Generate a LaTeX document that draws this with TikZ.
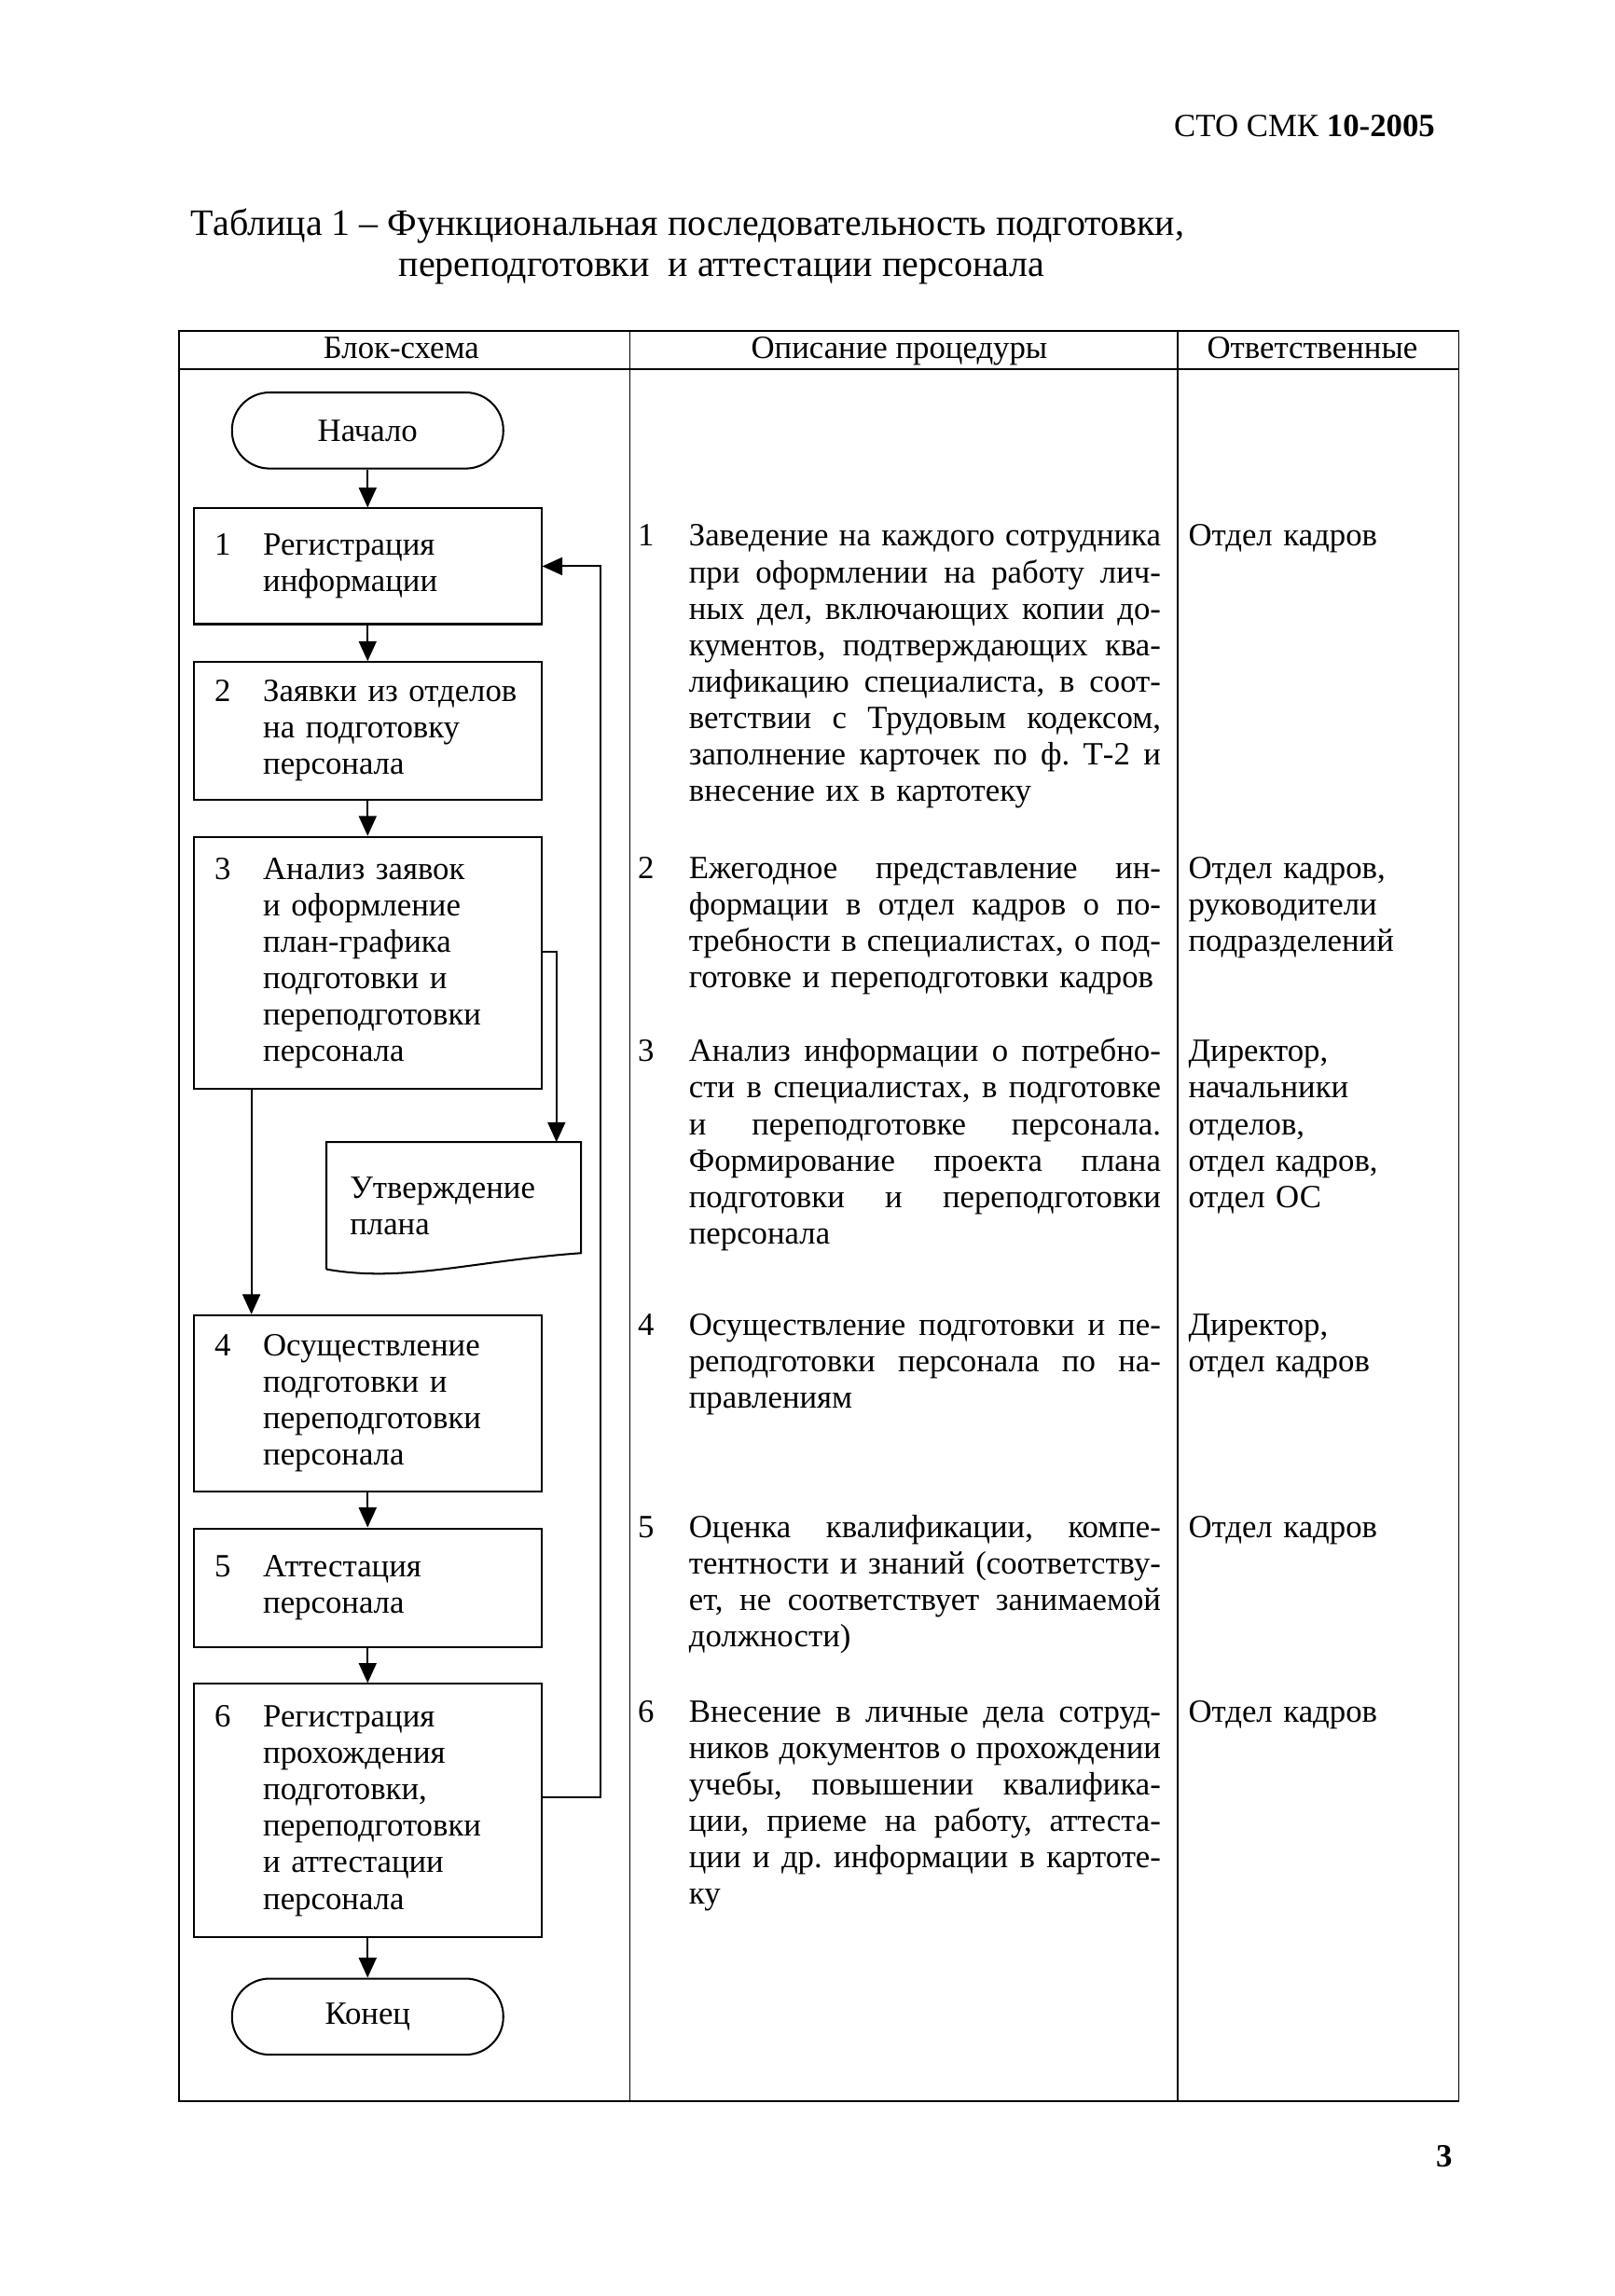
\documentclass[tikz,border=0pt]{standalone}
\usepackage{fontspec}
\setmainfont{Liberation Serif}
\usetikzlibrary{positioning, arrows.meta}
\frenchspacing

\newlength{\desclen}
\setlength{\desclen}{61.4mm}
\newcommand{\stepnum}[2]{\makebox[6.3mm][l]{#1}\begin{tabular}[t]{@{}l@{}}#2\end{tabular}}
\newcommand{\jline}[1]{\makebox[\desclen][s]{\spaceskip=0.25em plus 1fil minus 0.08em\relax #1}\\}

\begin{document}
\begin{tikzpicture}[x=0.19056mm, y=-0.19056mm, node distance=4.6mm,
    font=\fontsize{12}{13.5}\selectfont,
    block/.style={rectangle, draw, line width=0.7pt, text width=39.8mm, inner xsep=2.7mm, align=left, minimum height=#1},
    term/.style={rectangle, draw, line width=0.7pt, rounded corners=4.9mm, minimum width=35.3mm, minimum height=9.9mm},
    docbox/.style={text width=27mm, inner xsep=3mm, align=left, minimum height=16.4mm},
    desc/.style={anchor=base west, inner sep=0pt, text width=\desclen},
    resp/.style={anchor=base west, inner sep=0pt, text width=33mm, align=left},
    num/.style={anchor=base, inner sep=0pt},
    grid/.style={draw, line width=0.6pt},
    line/.style={draw, line width=0.7pt, -{Triangle[length=2.6mm, width=2.3mm]}}]

    \useasboundingbox (0,0) rectangle (1102,1568);

    \node[anchor=base east, inner sep=0pt] (hdr) at (980,93) {СТО СМК \textbf{10-2005}};
    \node[anchor=base west, inner sep=0pt, font=\fontsize{13.8}{16}\selectfont] (title1) at (130,161) {Таблица 1 – Функциональная последовательность подготовки,};
    \node[anchor=base west, inner sep=0pt, font=\fontsize{13.8}{16}\selectfont] (title2) at (272,189) {переподготовки\ \ и аттестации персонала};

    % table frame
    \path[grid] (122,226) rectangle (996,1435);
    \path[grid] (122,252) -- (996,252);
    \path[grid] (430,226) -- (430,1435);
    \path[grid] (804,226) -- (804,1435);
    \node[num] (h1) at (274,245) {Блок-схема};
    \node[num] (h2) at (614,245) {Описание процедуры};
    \node[num] (h3) at (896,245) {Ответственные};

    % flowchart
    \node[term] (start) at (251,294) {Начало};
    \node[block=15.05mm, below=4.95mm of start] (reg) {\stepnum{1}{Регистрация\\информации}};
    \node[block=17.9mm, below=4.7mm of reg] (req) {\stepnum{2}{Заявки из отделов\\на подготовку\\персонала}};
    \node[block=32.8mm, below=of req] (anl) {\stepnum{3}{Анализ заявок\\и оформление\\план-графика\\подготовки и\\переподготовки\\персонала}};
    \node[docbox, below=6.8mm of anl, xshift=11.2mm] (apprv) {Утверждение\\плана};
    \node[block=22.9mm, below=29.2mm of anl] (train) {\stepnum{4}{Осуществление\\подготовки и\\переподготовки\\персонала}};
    \node[block=15.4mm, below=of train] (att) {\stepnum{5}{Аттестация\\персонала}};
    \node[block=33mm, below=of att] (rec) {\stepnum{6}{Регистрация\\прохождения\\подготовки,\\переподготовки\\и аттестации\\персонала}};
    \node[term, below=5.1mm of rec] (stop) {Конец};

    \draw[line width=0.7pt] (apprv.south west) -- (apprv.north west) -- (apprv.north east) -- ([yshift=2.1mm]apprv.south east)
        .. controls +(-14mm,-1mm) and +(10mm,-1.8mm) .. (apprv.south west);

    \coordinate (back) at (410,0);
    \path[line] (start) -- (reg);
    \path[line] (reg) -- (req);
    \path[line] (req) -- (anl);
    \path[line] ([yshift=1.5mm]anl.east) -| ([xshift=-3.2mm]apprv.north east);
    \path[line] ([xshift=7.6mm]anl.south west) -- ([xshift=7.6mm]anl.south west |- train.north);
    \path[line] (train) -- (att);
    \path[line] (att) -- (rec);
    \path[line] (rec) -- (stop);
    \path[line] ([yshift=1.8mm]rec.east) -- ([yshift=1.8mm]rec.east -| back) |- (reg.east);

    % description
    \node[num] (n1) at (441,373) {1};
    \node[desc] (desc1) at (470,373) {\jline{Заведение на каждого сотрудника}\jline{при оформлении на работу лич-}\jline{ных дел, включающих копии до-}\jline{кументов, подтверждающих ква-}\jline{лификацию специалиста, в соот-}\jline{ветствии с Трудовым кодексом,}\jline{заполнение карточек по ф. Т-2 и}внесение их в картотеку};
    \node[num] (n2) at (441,600) {2};
    \node[desc] (desc2) at (470,600) {\jline{Ежегодное представление ин-}\jline{формации в отдел кадров о по-}\jline{требности в специалистах, о под-}готовке и переподготовки кадров};
    \node[num] (n3) at (441,725) {3};
    \node[desc] (desc3) at (470,725) {\jline{Анализ информации о потребно-}\jline{сти в специалистах, в подготовке}\jline{и переподготовке персонала.}\jline{Формирование проекта плана}\jline{подготовки и переподготовки}персонала};
    \node[num] (n4) at (441,912) {4};
    \node[desc] (desc4) at (470,912) {\jline{Осуществление подготовки и пе-}\jline{реподготовки персонала по на-}правлениям};
    \node[num] (n5) at (441,1050) {5};
    \node[desc] (desc5) at (470,1050) {\jline{Оценка квалификации, компе-}\jline{тентности и знаний (соответству-}\jline{ет, не соответствует занимаемой}должности)};
    \node[num] (n6) at (441,1176) {6};
    \node[desc] (desc6) at (470,1176) {\jline{Внесение в личные дела сотруд-}\jline{ников документов о прохождении}\jline{учебы, повышении квалифика-}\jline{ции, приеме на работу, аттеста-}\jline{ции и др. информации в картоте-}ку};

    % responsible
    \node[resp] (resp1) at (811,373) {Отдел кадров};
    \node[resp] (resp2) at (811,600) {Отдел кадров,\\руководители\\подразделений};
    \node[resp] (resp3) at (811,725) {Директор,\\начальники\\отделов,\\отдел кадров,\\отдел ОС};
    \node[resp] (resp4) at (811,912) {Директор,\\отдел кадров};
    \node[resp] (resp5) at (811,1050) {Отдел кадров};
    \node[resp] (resp6) at (811,1176) {Отдел кадров};

    \node[num, font=\fontsize{12}{13.5}\selectfont\bfseries] (pnum) at (986,1480) {3};
\end{tikzpicture}
\end{document}
